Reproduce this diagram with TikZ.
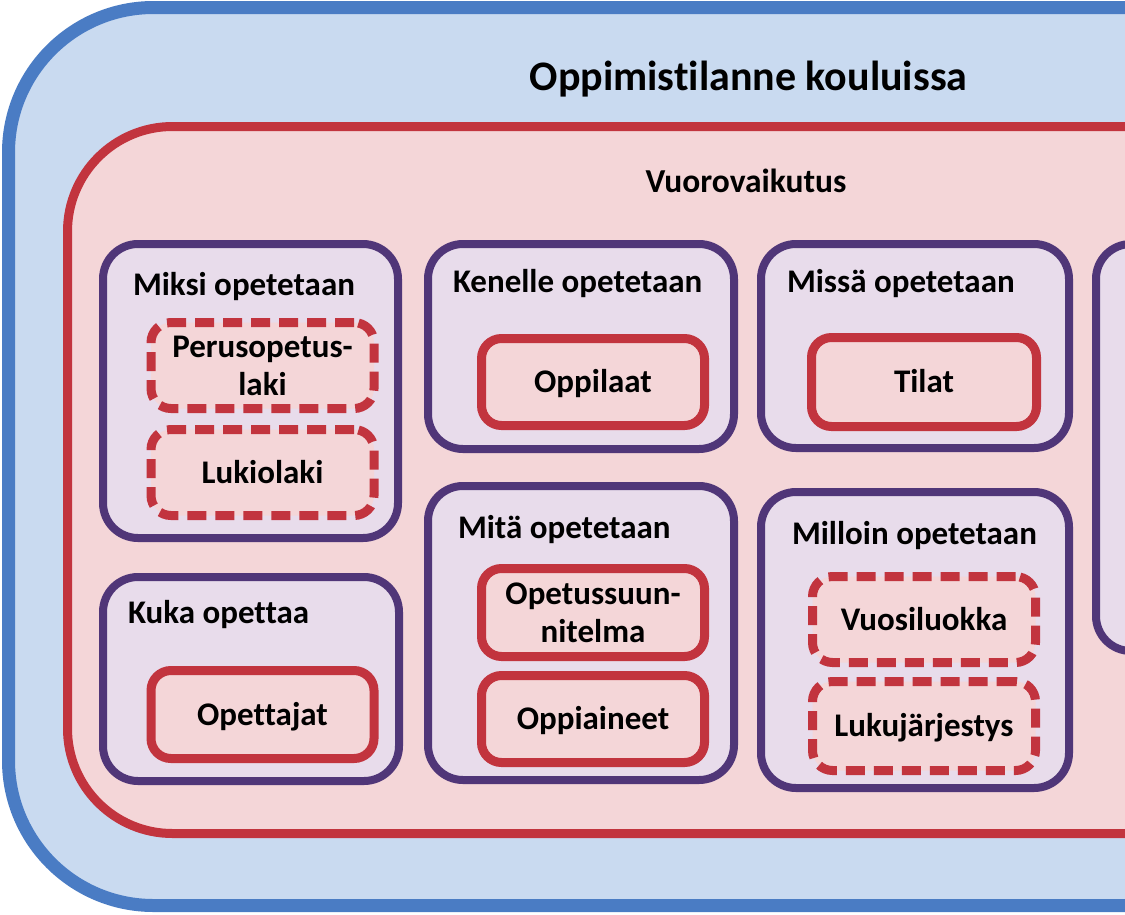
\documentclass[tikz,border=0pt]{standalone}
\usepackage{fontspec}
\setmainfont{Carlito}[RawFeature=-liga]
\definecolor{blueline}{RGB}{74,124,196}
\definecolor{bluefill}{RGB}{201,218,240}
\definecolor{redline}{RGB}{194,52,62}
\definecolor{pinkfill}{RGB}{244,214,216}
\definecolor{purpleline}{RGB}{80,54,120}
\definecolor{lavfill}{RGB}{232,220,235}
\begin{document}
\begin{tikzpicture}[x=1pt,y=-1pt,
  every node/.style={inner sep=0pt,outer sep=0pt},
  outerbox/.style={draw=blueline,fill=bluefill,line width=13pt,rounded corners=145pt,rectangle},
  redbox/.style={draw=redline,fill=pinkfill,line width=9pt,rounded corners=105pt,rectangle},
  pbox/.style={draw=purpleline,fill=lavfill,line width=8pt,rounded corners=35pt,rectangle},
  ibox/.style={draw=redline,fill=pinkfill,line width=9pt,rounded corners=20pt,rectangle,
    minimum width=223pt,minimum height=87pt,align=center,
    font=\fontsize{33}{38}\selectfont\bfseries},
  one/.style={text height=21pt,text depth=0pt},
  dashbox/.style={dash pattern=on 19pt off 9pt},
  hdr/.style={anchor=base west,font=\fontsize{33}{38}\selectfont\bfseries},
]
\useasboundingbox (0,0) rectangle (1125,914);
\clip (0,0) rectangle (1125,914);
\node[outerbox,anchor=north west,minimum width=1400pt,minimum height=898pt] (outer) at (8.5,7.5) {};
\node[anchor=base,font=\fontsize{42}{50}\selectfont\bfseries] (title) at (748.5,90) {Oppimistilanne kouluissa};
\node[redbox,anchor=north west,minimum width=1400pt,minimum height=707pt] (vuoro) at (67.5,126.5) {};
\node[anchor=base,font=\fontsize{33.5}{38}\selectfont\bfseries] (vuoroL) at (746,192) {Vuorovaikutus};
% purple boxes
\node[pbox,minimum width=295pt,minimum height=294pt] (miksi) at (250.5,391) {};
\node[pbox,minimum width=296pt,minimum height=204pt] (kuka) at (251,679) {};
\node[pbox,minimum width=306pt,minimum height=205pt] (kenelle) at (581,346.5) {};
\node[pbox,minimum width=306pt,minimum height=294pt] (mita) at (581,633) {};
\node[pbox,minimum width=308pt,minimum height=204pt] (missa) at (915,346) {};
\node[pbox,minimum width=308pt,minimum height=296pt] (milloin) at (915,640) {};
\node[pbox,anchor=north west,minimum width=400pt,minimum height=407pt] (right) at (1096,244) {};
% headers
\node[hdr] (miksiL) at (133,295) {Miksi opetetaan};
\node[hdr] (kukaL) at (128,623) {Kuka opettaa};
\node[hdr] (kenelleL) at (453,292) {Kenelle opetetaan};
\node[hdr] (mitaL) at (458,538) {Mitä opetetaan};
\node[hdr] (missaL) at (787,292) {Missä opetetaan};
\node[hdr] (milloinL) at (792,544) {Milloin opetetaan};
% inner boxes
\node[ibox,dashbox,minimum height=86pt] (peru) at (262.5,365.5) {Perusopetus-\\laki};
\node[ibox,dashbox,one,minimum height=86pt] (lukio) at (262.5,472.5) {Lukiolaki};
\node[ibox,one,minimum height=88pt] (opettajat) at (262.5,714.5) {Opettajat};
\node[ibox,one] (oppilaat) at (593,382) {Oppilaat};
\node[ibox,minimum height=88pt] (ops) at (593,612.5) {Opetussuun-\\nitelma};
\node[ibox,one] (oppiaineet) at (593,719) {Oppiaineet};
\node[ibox,one,minimum width=225pt,minimum height=89pt] (tilat) at (924,382) {Tilat};
\node[ibox,dashbox,one,minimum height=86pt] (vuosi) at (924,619.5) {Vuosiluokka};
\node[ibox,dashbox,one,minimum height=89pt] (lukuj) at (924,726) {Lukujärjestys};
\end{tikzpicture}
\end{document}
